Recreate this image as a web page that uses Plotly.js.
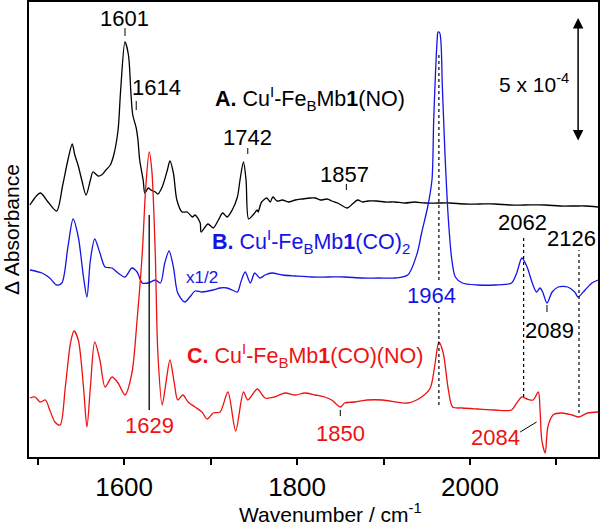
<!DOCTYPE html>
<html>
<head>
<meta charset="utf-8">
<script src="https://cdn.plot.ly/plotly-3.0.1.min.js"></script>
<style>html,body{margin:0;padding:0;background:#fff;}#chart{width:600px;height:526px;}</style>
</head>
<body>
<div id="chart"></div>
<script>
// Spectrum A: Cu(I)-FeBMb1(NO), black (wavenumber, relative absorbance, arbitrary units incl. offset)
var waveA = [1491,1503,1512,1522,1529,1535,1540,1543,1547,1551,1556,1561,1564,1570,1574,1579,1584,1588,1593,1596,1601,1605,1608,1610,1614,1616,1618,1622,1624,1628,1631,1636,1639,1644,1650,1653,1657,1661,1667,1673,1679,1682,1688,1689,1697,1703,1709,1714,1719,1725,1731,1734,1738,1741,1744,1749,1754,1755,1759,1765,1769,1772,1777,1783,1790,1798,1806,1815,1821,1827,1835,1840,1847,1858,1864,1870,1876,1882,1892,1902,1913,1925,1936,1948,1963,1977,1994,2011,2029,2046,2063,2087,2104,2121,2133,2148];
var absA = [252,264,255,246,272,297,313,302,291,277,262,277,285,281,282,287,292,302,327,367,415,402,362,342,329,317,297,277,264,269,267,265,263,270,287,296,284,257,245,245,240,242,234,225,233,229,237,244,240,247,260,277,295,277,238,242,247,245,255,259,255,260,256,257,255,257,258,259,259,257,258,256,254,249,253,257,255,256,256,255,255,254,255,254,254,254,253,253,253,252,252,252,251,251,251,250];

// Spectrum B: Cu(I)-FeBMb1(CO)2, blue (x1/2)
var waveB = [1491,1505,1514,1522,1528,1535,1541,1547,1553,1557,1561,1566,1572,1578,1586,1593,1601,1609,1615,1621,1628,1636,1642,1647,1652,1657,1662,1670,1676,1682,1690,1703,1711,1719,1725,1731,1735,1740,1746,1751,1757,1763,1771,1783,1798,1817,1836,1855,1875,1894,1913,1928,1939,1944,1951,1956,1958,1962,1963,1965,1968,1971,1975,1979,1983,1991,2009,2029,2048,2054,2060,2066,2072,2077,2081,2084,2089,2095,2102,2113,2121,2125,2133,2141,2148];
var absB = [187,184,179,172,174,210,238,220,180,160,197,218,204,190,189,184,180,189,185,174,174,177,174,194,206,190,164,155,160,166,165,167,169,169,167,165,175,185,174,184,179,182,184,182,181,180,180,180,179,179,179,182,204,224,250,277,337,417,425,424,370,304,237,197,180,174,172,172,174,184,199,190,174,165,169,165,154,165,170,170,165,160,167,174,177];

// Spectrum C: Cu(I)-FeBMb1(CO)(NO), red
var waveC = [1491,1497,1503,1509,1514,1520,1526,1532,1538,1542,1547,1553,1557,1561,1566,1572,1578,1586,1593,1601,1609,1615,1621,1625,1629,1632,1636,1639,1644,1648,1653,1658,1662,1668,1674,1682,1690,1696,1703,1711,1720,1729,1738,1743,1754,1763,1774,1786,1798,1809,1821,1832,1840,1850,1855,1867,1881,1899,1928,1944,1954,1959,1964,1969,1975,1980,1991,2009,2029,2048,2054,2060,2066,2073,2079,2081,2083,2087,2090,2096,2106,2118,2126,2136,2148];
var absC = [59,60,55,57,47,35,32,70,114,126,117,70,30,70,115,97,70,80,74,62,84,137,204,270,305,287,204,104,52,72,97,74,57,62,55,50,45,38,44,45,65,26,65,57,68,59,60,64,62,64,62,60,57,50,54,55,57,57,54,60,69,90,115,104,67,50,49,48,47,47,54,60,58,57,65,47,17,4,30,42,44,42,40,44,45];

// Peak labels
var peakLabels = ["1601","1614","1742","1857","1964","2062","2126","2089","1629","1850","2084"];
var xTickVals = [1500,1600,1700,1800,1900,2000,2100];
var xTickText = ["","1600","","1800","","2000",""];

var FONT = "Liberation Sans, Arial, Helvetica, sans-serif";
var BLACK = "#000000", BLUE = "#1414e6", RED = "#ee1111";
var NUM = 22, LAB = 21.5;

var traces = [
  {x: waveA, y: absA, type: "scatter", mode: "lines", line: {color: BLACK, width: 1.3, shape: "spline", smoothing: 0.8}, hoverinfo: "skip"},
  {x: waveB, y: absB, type: "scatter", mode: "lines", line: {color: BLUE, width: 1.3, shape: "spline", smoothing: 0.8}, hoverinfo: "skip"},
  {x: waveC, y: absC, type: "scatter", mode: "lines", line: {color: RED, width: 1.3, shape: "spline", smoothing: 0.8}, hoverinfo: "skip"}
];

function lbl(text, x, y, color, size) {
  return {text: text, x: x, y: y, xref: "x", yref: "y", showarrow: false,
          font: {family: FONT, size: size || NUM, color: color}, xanchor: "center", yanchor: "middle"};
}
function vline(x, y0, y1, color, dash, w) {
  return {type: "line", xref: "x", yref: "y", x0: x, x1: x, y0: y0, y1: y1,
          line: {color: color, width: w || 1, dash: dash || "solid"}};
}

var annotations = [
  lbl(peakLabels[0], 1600, 439, BLACK),
  lbl(peakLabels[1], 1638, 370, BLACK),
  lbl(peakLabels[2], 1743, 320, BLACK),
  lbl(peakLabels[3], 1855, 283, BLACK),
  lbl(peakLabels[4], 1955, 162, BLUE),
  lbl(peakLabels[5], 2061, 235, BLACK),
  lbl(peakLabels[6], 2117, 219, BLACK),
  lbl(peakLabels[7], 2092, 127, BLACK),
  lbl(peakLabels[8], 1629, 32, RED),
  lbl(peakLabels[9], 1850, 24, RED),
  lbl(peakLabels[10], 2030, 20, RED),
  {text: "<b>A.</b> Cu<sup>I</sup>-Fe<sub>B</sub>Mb<b>1</b>(NO)", x: 1703, y: 359, xref: "x", yref: "y",
   showarrow: false, xanchor: "left", yanchor: "middle", font: {family: FONT, size: LAB, color: BLACK}},
  {text: "<b>B.</b> Cu<sup>I</sup>-Fe<sub>B</sub>Mb<b>1</b>(CO)<sub>2</sub>", x: 1699, y: 216, xref: "x", yref: "y",
   showarrow: false, xanchor: "left", yanchor: "middle", font: {family: FONT, size: LAB, color: BLUE}},
  {text: "<b>C.</b> Cu<sup>I</sup>-Fe<sub>B</sub>Mb<b>1</b>(CO)(NO)", x: 1670, y: 102, xref: "x", yref: "y",
   showarrow: false, xanchor: "left", yanchor: "middle", font: {family: FONT, size: LAB, color: RED}},
  lbl("x1/2", 1690, 180, BLUE, 17),
  lbl("5 x 10<sup>-4</sup>", 2074, 374, BLACK, 21),
  {text: "", x: 2125, y: 439, ax: 2125, ay: 315, xref: "x", yref: "y", axref: "x", ayref: "y",
   showarrow: true, arrowhead: 2, startarrowhead: 2, arrowside: "end+start", arrowsize: 1.4, startarrowsize: 1.4,
   arrowwidth: 1.5, arrowcolor: BLACK},
  {text: "Wavenumber / cm<sup>-1</sup>", x: 0.529, y: -0.123, xref: "paper", yref: "paper",
   showarrow: false, xanchor: "center", yanchor: "middle", font: {family: FONT, size: 21, color: BLACK}}
];

var shapes = [
  vline(1601, 421, 429, BLACK),
  vline(1614, 347, 356, BLACK),
  vline(1743, 303, 309, BLACK),
  vline(1857, 267, 273, BLACK),
  vline(2089, 145, 152, BLACK),
  vline(1850, 41, 47, BLACK),
  vline(1629, 47, 242, BLACK, "solid", 1.3),
  vline(1964, 177, 402, BLACK, "dot", 1.2),
  vline(1964, 52, 150, BLACK, "dot", 1.2),
  vline(2062, 60, 222, BLACK, "dot", 1.2),
  vline(2126, 44, 207, BLACK, "dot", 1.2),
  {type: "line", xref: "x", yref: "y", x0: 2058, y0: 25, x1: 2077, y1: 35, line: {color: BLACK, width: 1}}
];

var layout = {
  width: 600, height: 526,
  margin: {l: 29, r: 2, t: 2, b: 69},
  paper_bgcolor: "#ffffff", plot_bgcolor: "#ffffff",
  showlegend: false,
  font: {family: FONT, color: BLACK},
  xaxis: {
    range: [1490, 2148], tickvals: xTickVals, ticktext: xTickText,
    ticks: "outside", ticklen: 6, tickwidth: 2, tickcolor: BLACK,
    showline: true, linewidth: 2, linecolor: BLACK, mirror: true,
    showgrid: false, zeroline: false,
    tickfont: {family: FONT, size: 26, color: BLACK}
  },
  yaxis: {
    range: [0, 455], showticklabels: false, ticks: "",
    showline: true, linewidth: 2, linecolor: BLACK, mirror: true,
    showgrid: false, zeroline: false,
    title: {text: "\u0394 Absorbance", font: {family: FONT, size: 21, color: BLACK}, standoff: 2}
  },
  annotations: annotations,
  shapes: shapes
};

Plotly.newPlot("chart", traces, layout, {staticPlot: true, displayModeBar: false});
</script>
</body>
</html>
